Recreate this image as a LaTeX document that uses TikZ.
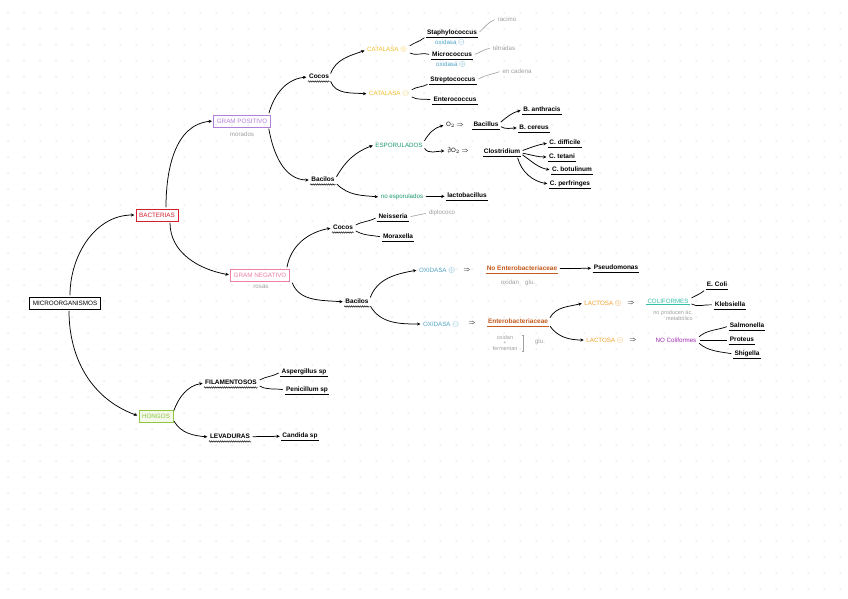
\documentclass[tikz,border=0pt]{standalone}
\usepackage{fontspec}
\usepackage{amssymb}
\setmainfont{Liberation Sans}
\usetikzlibrary{arrows.meta,decorations.pathmorphing}
\definecolor{cbact}{HTML}{D21F2E}
\definecolor{cgpos}{HTML}{B07FD8}
\definecolor{cgneg}{HTML}{EE7FA6}
\definecolor{chong}{HTML}{8DC63F}
\definecolor{ccat}{HTML}{F2BE2C}
\definecolor{cox}{HTML}{4FA3C7}
\definecolor{cesp}{HTML}{1A9A6C}
\definecolor{cent}{HTML}{C45A1E}
\definecolor{clac}{HTML}{F0A02A}
\definecolor{ccoli}{HTML}{35BFA8}
\definecolor{cnocoli}{HTML}{9C27B0}
\definecolor{cnote}{HTML}{A0A0A0}
\definecolor{cdot}{HTML}{DCDCDC}
\newcommand\myhead{\fontsize{6.3}{7}\selectfont}
\newcommand\myname{\fontsize{6.5}{7}\selectfont\bfseries}
\newcommand\mysmall{\fontsize{6.2}{7}\selectfont}
\newcommand\mypos{{\fontsize{8.5}{8}\selectfont$\oplus$}}
\newcommand\myneg{{\fontsize{8.5}{8}\selectfont$\ominus$}}
\begin{document}
\begin{tikzpicture}[x=1pt,y=-1pt,
 box/.style={draw=#1,text=#1,line width=0.7pt,font=\myhead,inner xsep=3pt,inner ysep=3.5pt,text height=4.6pt,text depth=0.2pt},
 ul/.style={append after command={(\tikzlastnode.south west) edge[draw=#1,line width=0.6pt] (\tikzlastnode.south east)}},
 ul/.default=black,
 nm/.style={font=\myname,inner sep=1pt,text height=5pt,text depth=1.4pt,ul},
 wv/.style={font=\myname,inner sep=1pt,text height=5pt,text depth=1.6pt,append after command={(\tikzlastnode.south west) edge[draw,line width=0.45pt,decorate,decoration={snake,amplitude=0.7pt,segment length=2.2pt}] (\tikzlastnode.south east)}},
 lbl/.style={font=\mysmall,text=#1,inner sep=1pt},
 note/.style={font=\mysmall,text=cnote,inner sep=1pt},
 arr/.style={draw,line width=0.75pt,-{Stealth[length=3.4pt,width=3.2pt]},shorten <=1.5pt,shorten >=1.5pt},
 ln/.style={draw,line width=0.7pt,shorten <=2pt,shorten >=2pt},
 gl/.style={draw=cnote,line width=0.6pt,shorten <=2pt,shorten >=2pt},
 imp/.style={font=\mysmall,inner sep=1pt}
]
\useasboundingbox (0,0) rectangle (848,599);
\fill[white] (0,0) rectangle (848,599);
\foreach \i in {0,...,52}{\foreach \j in {0,...,37}{\fill[cdot] (8+16*\i,13+16*\j) circle (0.75pt);}}

% main boxes
\node[box=black] (micro) at (65,303) {MICROORGANISMOS};
\node[box=cbact] (bact) at (157,215) {BACTERIAS};
\node[box=cgpos] (gpos) at (242,121) {GRAM POSITIVO};
\node[note] (gposn) at (242,134) {morados};
\node[box=cgneg] (gneg) at (260,275) {GRAM NEGATIVO};
\node[note] (gnegn) at (261,287) {rosas};
\node[box=chong,fill=chong!10] (hong) at (156,416) {HONGOS};

% hongos
\node[wv] (fil) at (231,383) {FILAMENTOSOS};
\node[wv] (lev) at (230,437) {LEVADURAS};
\node[nm] (cand) at (300,436) {Candida sp};
\node[nm] (asp) at (304,372) {Aspergillus sp};
\node[nm] (pen) at (307,390) {Penicillum sp};

% gram positivo
\node[wv] (coc1) at (319,77) {Cocos};
\node[wv] (bac1) at (323,180) {Bacilos};
\node[lbl=ccat] (catp) at (387,50) {CATALASA \mypos};
\node[lbl=ccat] (catn) at (389,94) {CATALASA \myneg};
\node[nm] (staph) at (452,33) {Staphylococcus};
\node[lbl=cox] (oxn) at (450,43) {oxidasa \myneg};
\node[nm] (micc) at (452,55) {Micrococcus};
\node[lbl=cox] (oxp) at (451,65) {oxidasa \mypos};
\node[nm] (strep) at (453,80) {Streptococcus};
\node[nm] (entc) at (455,100) {Enterococcus};
\node[note] (racimo) at (507,19) {racimo};
\node[note] (tetr) at (504,48) {tétradas};
\node[note] (cadena) at (517,71) {en cadena};

\node[lbl=cesp] (espo) at (399,145) {ESPORULADOS};
\node[lbl=cesp] (noespo) at (402,197) {no esporulados};
\node[nm] (lacto) at (467,196) {lactobacillus};
\node[imp] (o2) at (455,125) {O$_2$ $\Rightarrow$};
\node[nm] (bacil) at (486,125) {Bacillus};
\node[imp] (no2) at (458,151) {$\nexists$O$_2$ $\Rightarrow$};
\node[nm] (clos) at (502,152) {Clostridium};
\node[nm] (bant) at (542,110) {B. anthracis};
\node[nm] (bcer) at (534,128) {B. cereus};
\node[nm] (cdif) at (565,143) {C. difficile};
\node[nm] (ctet) at (562,157) {C. tetani};
\node[nm] (cbot) at (572,170) {C. botulinum};
\node[nm] (cper) at (570,184) {C. perfringes};

% gram negativo
\node[wv] (coc2) at (343,228) {Cocos};
\node[wv] (bac2) at (357,302) {Bacilos};
\node[nm] (neis) at (393,217) {Neisseria};
\node[note] (dipl) at (442,213) {diplococo};
\node[nm] (morax) at (398,237) {Moraxella};
\node[lbl=cox] (oxp2) at (437,270) {OXIDASA \mypos};
\node[imp] (imp1) at (467,270) {$\Rightarrow$};
\node[nm,text=cent,ul=cent] (noent) at (522,269) {No Enterobacteriaceae};
\node[note] (noentn) at (518,283) {oxidan\quad glu.};
\node[nm] (pseu) at (616,268) {Pseudomonas};
\node[lbl=cox] (oxn2) at (441,324) {OXIDASA \myneg};
\node[imp] (imp2) at (472,323) {$\Rightarrow$};
\node[nm,text=cent,ul=cent] (ent) at (518,322) {Enterobacteriaceae};
\node[note,align=center,font=\fontsize{5.5}{5.5}\selectfont] (entn) at (505,343) {oxidan\\+\\fermentan};
\node[note] (glu) at (540,342) {glu.};
\node[lbl=clac] (latp) at (603,303) {LACTOSA \mypos};
\node[imp] (imp3) at (631,303) {$\Rightarrow$};
\node[lbl=ccoli,ul=ccoli] (coli) at (668,301) {COLIFORMES};
\node[note,align=right,anchor=north east,font=\fontsize{5.5}{6.5}\selectfont] (colin) at (694,309) {no producen ác.\\metabólico};
\node[nm] (ecoli) at (717,285) {E. Coli};
\node[nm] (kleb) at (730,305) {Klebsiella};
\node[lbl=clac] (latn) at (605,340) {LACTOSA \myneg};
\node[imp] (imp4) at (633,340) {$\Rightarrow$};
\node[lbl=cnocoli] (nocoli) at (676,340) {NO Coliformes};
\node[nm] (salm) at (747,326) {Salmonella};
\node[nm] (prot) at (742,340) {Proteus};
\node[nm] (shig) at (747,354) {Shigella};

% arrows
\draw[arr] ([xshift=5pt]micro.north) to[out=90,in=180] (bact.west);
\draw[arr] ([xshift=4pt]micro.south) to[out=-90,in=160] (hong.west);
\draw[arr] ([xshift=9pt]bact.north) to[out=90,in=185] (gpos.west);
\draw[arr] ([xshift=13pt]bact.south) to[out=-90,in=170] (gneg.west);
\draw[arr] ([xshift=-2pt]gpos.north east) to[out=75,in=185] (coc1.west);
\draw[arr] ([xshift=-2pt]gpos.south east) to[out=-80,in=180] (bac1.west);
\draw[arr] ([yshift=2pt]coc1.east) to[out=70,in=200] (catp.west);
\draw[arr] ([yshift=-3pt]coc1.east) to[out=-70,in=175] (catn.west);
\draw[arr] ([yshift=2pt]bac1.east) to[out=60,in=200] (espo.west);
\draw[arr] ([yshift=-3pt]bac1.east) to[out=-45,in=175] (noespo.west);
\draw[arr] (noespo) -- (lacto);
\draw[arr] ([yshift=3pt]espo.east) to[out=60,in=195] (o2.west);
\draw[arr] ([yshift=-2pt]espo.east) to[out=-60,in=180] (no2.west);
\draw[arr] ([yshift=2pt]bacil.east) to[out=40,in=195] (bant.west);
\draw[arr] ([yshift=-1pt]bacil.east) to[out=-30,in=180] (bcer.west);
\draw[arr] ([yshift=1pt]clos.east) to[out=20,in=190] (cdif.west);
\draw[arr] ([yshift=-1pt]clos.east) to[out=-10,in=180] (ctet.west);
\draw[arr] ([yshift=-2pt]clos.east) to[out=-35,in=170] (cbot.west);
\draw[arr] ([xshift=-4pt]clos.south east) to[out=-75,in=170] (cper.west);
\draw[arr] ([xshift=-3pt]gneg.north east) to[out=80,in=190] (coc2.west);
\draw[arr] ([xshift=2pt]gneg.south east) to[out=-70,in=175] (bac2.west);
\draw[arr] ([yshift=3pt]bac2.east) to[out=70,in=190] (oxp2.west);
\draw[arr] ([yshift=-3pt]bac2.east) to[out=-60,in=180] (oxn2.west);
\draw[arr] (noent) -- (pseu);
\draw[arr] ([yshift=3pt]ent.east) to[out=60,in=195] (latp.west);
\draw[arr] ([yshift=-3pt]ent.east) to[out=-55,in=180] (latn.west);
\draw[arr] ([yshift=4pt]hong.east) to[out=70,in=190] (fil.west);
\draw[arr] ([yshift=-4pt]hong.east) to[out=-60,in=175] (lev.west);
\draw[arr] (lev) -- (cand);

% plain lines
\draw[ln] ([yshift=3pt]catp.east) to[out=35,in=220] ([yshift=1pt]staph.south west);
\draw[ln] ([yshift=-2pt]catp.east) to[out=-30,in=160] (micc.west);
\draw[ln] ([yshift=3pt]catn.east) to[out=35,in=210] ([yshift=1pt]strep.south west);
\draw[ln] ([yshift=-2pt]catn.east) to[out=-30,in=170] (entc.west);
\draw[ln] ([yshift=2pt]fil.east) to[out=30,in=210] (asp.west);
\draw[ln] ([yshift=-2pt]fil.east) to[out=-30,in=170] (pen.west);
\draw[ln] ([yshift=2pt]coc2.east) to[out=30,in=210] (neis.west);
\draw[ln] ([yshift=-2pt]coc2.east) to[out=-30,in=170] (morax.west);
\draw[ln] ([yshift=2pt]coli.east) to[out=30,in=220] (ecoli.south west);
\draw[ln] ([yshift=-2pt]coli.east) to[out=-30,in=175] (kleb.west);
\draw[ln] ([yshift=2pt]nocoli.east) to[out=40,in=200] (salm.west);
\draw[ln] (nocoli.east) -- (prot.west);
\draw[ln] ([yshift=-2pt]nocoli.east) to[out=-40,in=170] (shig.west);
\draw[gl] (staph.east) to[out=40,in=200] (racimo.west);
\draw[gl] (micc.east) to[out=20,in=190] (tetr.west);
\draw[gl] (strep.east) to[out=30,in=200] (cadena.west);
\draw[gl] (neis.east) -- (dipl.west);
\draw[draw=cnote,line width=0.6pt] ([xshift=3pt,yshift=-1pt]entn.north east) -- ++(2,0) -- ++(0,16) -- ++(-2,0);
\end{tikzpicture}
\end{document}
